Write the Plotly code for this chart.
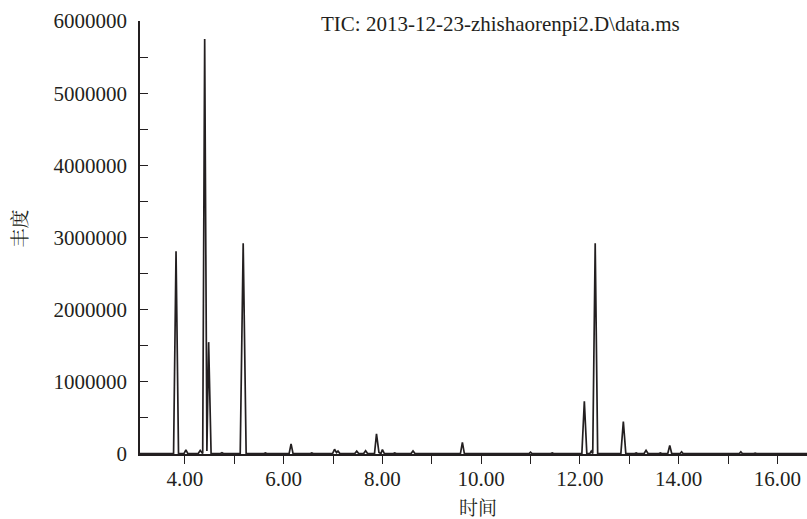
import plotly.graph_objects as go

# Retention time (min) and abundance of the TIC trace
rt = [3.09, 3.77, 3.82, 3.87, 3.98, 4.02, 4.06, 4.27, 4.31, 4.35, 4.36, 4.40, 4.445,
      4.48, 4.53, 4.72, 4.75, 4.78, 4.82, 4.85, 4.88, 4.91, 4.94, 4.97, 5.12, 5.18,
      5.24, 5.60, 5.63, 5.66, 6.11, 6.15, 6.19, 6.54, 6.57, 6.60, 6.67, 6.70, 6.73,
      6.99, 7.03, 7.07, 7.10, 7.14, 7.44, 7.48, 7.52, 7.62, 7.66, 7.70, 7.84, 7.88,
      7.93, 7.97, 8.00, 8.04, 8.22, 8.25, 8.28, 8.58, 8.62, 8.66, 9.58, 9.62, 9.66,
      10.97, 11.00, 11.03, 11.41, 11.44, 11.47, 11.74, 11.77, 11.80, 12.04, 12.09,
      12.14, 12.20, 12.23, 12.26, 12.31, 12.36, 12.83, 12.88, 12.93, 13.11, 13.14,
      13.17, 13.19, 13.22, 13.25, 13.30, 13.34, 13.38, 13.60, 13.63, 13.66, 13.78,
      13.82, 13.86, 14.03, 14.06, 14.09, 15.23, 15.26, 15.29, 15.52, 15.55, 15.58,
      16.60]
abundance = [6000, 6000, 2810000, 6000, 6000, 55000, 6000, 6000, 50000, 6000, 6000,
             5750000, 40000, 1550000, 6000, 6000, 18000, 6000, 6000, 16000, 6000,
             6000, 15000, 6000, 6000, 2920000, 6000, 6000, 14000, 6000, 6000, 140000,
             6000, 6000, 14000, 6000, 6000, 14000, 6000, 6000, 65000, 20000, 40000,
             6000, 6000, 40000, 6000, 6000, 45000, 6000, 6000, 280000, 20000, 6000,
             60000, 6000, 6000, 14000, 6000, 6000, 42000, 6000, 6000, 160000, 6000,
             6000, 25000, 6000, 6000, 14000, 6000, 6000, 12000, 6000, 6000, 730000,
             6000, 6000, 40000, 6000, 2920000, 6000, 6000, 450000, 6000, 6000, 14000,
             6000, 6000, 14000, 6000, 6000, 50000, 6000, 6000, 14000, 6000, 6000,
             120000, 6000, 6000, 30000, 6000, 6000, 30000, 6000, 6000, 12000, 6000,
             6000]

y_ticks = [0, 1000000, 2000000, 3000000, 4000000, 5000000, 6000000]
y_tick_labels = ["0", "1000000", "2000000", "3000000", "4000000", "5000000", "6000000"]
x_ticks = [4, 6, 8, 10, 12, 14, 16]
x_tick_labels = ["4.00", "6.00", "8.00", "10.00", "12.00", "14.00", "16.00"]

title_text = "TIC: 2013-12-23-zhishaorenpi2.D\\data.ms"
x_title = "时间"
y_title = "丰度"

serif = "Liberation Serif, Times New Roman, serif"
cjk = "Noto Serif CJK SC, Noto Sans CJK SC, sans-serif"
ink = "#231f20"

fig = go.Figure()
fig.add_trace(go.Scatter(x=rt, y=abundance, mode="lines",
                         line=dict(color=ink, width=1.7), hoverinfo="skip",
                         showlegend=False))

fig.update_layout(
    width=807, height=519,
    margin=dict(l=140, r=0, t=21, b=65),
    paper_bgcolor="white", plot_bgcolor="white",
    font=dict(family=serif, size=21, color=ink),
    xaxis=dict(range=[3.09, 16.6], tickvals=x_ticks, ticktext=x_tick_labels,
               ticks="outside", ticklen=8, tickwidth=1.3, tickcolor=ink,
               minor=dict(tickvals=[5, 7, 9, 11, 13, 15], ticks="outside",
                          ticklen=8, tickwidth=1.3, tickcolor=ink),
               showline=True, linecolor=ink, linewidth=2, showgrid=False,
               zeroline=False, automargin=False, ticklabelstandoff=-3,
               tickfont=dict(family=serif, size=21, color=ink)),
    yaxis=dict(range=[0, 6000000], tickvals=y_ticks, ticktext=y_tick_labels,
               ticks="inside", ticklen=8, tickwidth=1.3, tickcolor=ink,
               minor=dict(tickvals=[500000, 1500000, 2500000, 3500000, 4500000, 5500000],
                          ticks="inside", ticklen=8, tickwidth=1.3, tickcolor=ink),
               showline=True, linecolor=ink, linewidth=1.5, showgrid=False,
               zeroline=False, automargin=False, ticklabelstandoff=7,
               tickfont=dict(family=serif, size=21, color=ink)),
    annotations=[
        dict(text=title_text, xref="paper", yref="paper", x=0.54, y=1.0,
             xanchor="center", yanchor="middle", yshift=-3, showarrow=False,
             font=dict(family=serif, size=21, color=ink)),
        dict(text=x_title, xref="paper", yref="paper", x=0.507, y=0,
             xanchor="center", yanchor="middle", yshift=-52, showarrow=False,
             borderpad=0, font=dict(family=cjk, size=19, color=ink)),
        dict(text=y_title, xref="paper", yref="paper", x=0, y=0.5,
             xanchor="center", yanchor="middle", xshift=-122, yshift=9,
             textangle=-90, showarrow=False,
             font=dict(family=cjk, size=19, color=ink)),
    ],
)

fig.write_html("out.html", config={"displayModeBar": False},
               post_script="document.body.style.margin='0';document.body.style.overflow='hidden';")
